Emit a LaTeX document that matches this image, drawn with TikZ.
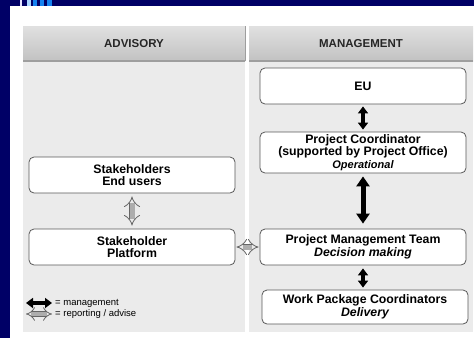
\documentclass[tikz,border=0pt]{standalone}
\usepackage{fontspec}
\setmainfont{Liberation Sans}
\usetikzlibrary{positioning,arrows.meta}
\definecolor{navyframe}{RGB}{0,0,102}
\definecolor{logoblue}{RGB}{20,130,240}
\definecolor{logolight}{RGB}{170,215,255}

\begin{document}
\begin{tikzpicture}[x=1pt, y=-1pt, node distance = 60pt and 100pt, on grid,
hdr/.style ={font=\bfseries\fontsize{11.5}{12}\selectfont, text=black!85},
box/.style ={draw=black!65, fill=white, rounded corners=5pt, line width=0.8pt,
  minimum width=206pt, minimum height=36pt, align=center, inner sep=1pt,
  font=\bfseries\fontsize{12.3}{12.5}\selectfont},
mgmt/.style ={line width=4pt, {Triangle[length=7pt,width=10pt]}-{Triangle[length=7pt,width=10pt]}},
report/.style ={draw=black!60, line width=0.8pt, double=black!32, double distance=5pt, {Implies}-{Implies}},
legend/.style ={font=\fontsize{9.5}{11}\selectfont, anchor=west, inner sep=0pt}]
\useasboundingbox (0,0) rectangle (474,338);
\fill[white] (0,0) rectangle (474,338);
% frame
\fill[navyframe] (0,0) rectangle (474,6);
\fill[navyframe] (0,0) rectangle (10,338);
\fill[white!90!blue] (20,0) rectangle (22,6);
\fill[logolight] (27,0) rectangle (31,6);
\fill[logoblue] (33,0) rectangle (37,6);
\fill[logoblue] (40,0) rectangle (44,6);
\fill[logoblue] (47,0) rectangle (52,6);
% columns
\fill[black!8] (23,61) rectangle (245,332);
\fill[black!8] (249,61) rectangle (473,332);
\shade[top color=black!12, bottom color=black!24] (23,26) rectangle (245,61);
\shade[top color=black!12, bottom color=black!24] (249,26) rectangle (473,61);
\draw[black!38, line width=1.5pt] (23,61) -- (245,61) (249,61) -- (473,61);
\draw[black!38, line width=0.8pt] (245,26) -- (245,61);
\node[hdr] (adv) at (134,44) {ADVISORY};
\node[hdr] (man) at (361,44) {MANAGEMENT};

% management column
\node[box] (eu) at (363,86) {EU};
\node[box, minimum height=41pt] (pc) [below = 66.5pt of eu] {Project Coordinator\\(supported by Project Office)\\{\itshape\fontsize{11}{11}\selectfont Operational}};
\node[box] (pmt) [below = 94.5pt of pc] {Project Management Team\\{\itshape Decision making}};
\node[box, minimum height=34pt] (wpc) [below = 60pt of pmt, xshift=2pt] {Work Package Coordinators\\{\itshape Delivery}};

% advisory column
\node[box] (seu) at (132,175) {Stakeholders\\End users};
\node[box] (sp) [below = 72pt of seu] {Stakeholder\\Platform};

\path[mgmt, shorten <=2pt, shorten >=2pt] (eu) edge (pc);
\path[line width=5pt, {Triangle[length=10pt,width=13pt]}-{Triangle[length=10pt,width=13pt]}, shorten <=3pt, shorten >=5pt] (pc) edge (pmt);
\path[mgmt, shorten <=3pt, shorten >=2pt] (pmt) edge (wpc.north -| pmt);
\draw[report, shorten <=3pt, shorten >=3pt] (seu) -- (sp);
\draw[report, shorten <=1pt, shorten >=1pt] (sp) -- (pmt);

% legend
\coordinate (l1) at (26,303);
\coordinate (l2) at (26,314);
\node[legend] (lmgmt) at (55,303) {= management};
\node[legend] (lrep) at (55,314) {= reporting / advise};
\draw[mgmt, line width=4pt, {Triangle[length=7pt,width=10pt]}-{Triangle[length=7pt,width=10pt]}] (l1) -- ([xshift=-3pt]lmgmt.west);
\draw[report, double distance=4pt] (l2) -- ([xshift=-3pt]lrep.west);
\end{tikzpicture}
\end{document}
